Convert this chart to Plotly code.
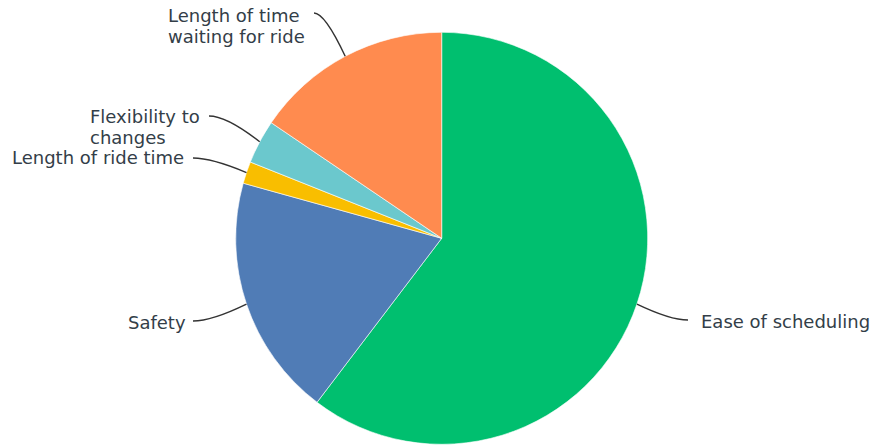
import math
import plotly.graph_objects as go

# Survey responses: most important factor when booking a ride
labels = ["Ease of scheduling", "Safety", "Length of ride time",
          "Flexibility to changes", "Length of time waiting for ride"]
label_lines = [["Ease of scheduling"], ["Safety"], ["Length of ride time"],
               ["Flexibility to", "changes"], ["Length of time", "waiting for ride"]]
responses = [35, 11, 1, 2, 9]
colors = ["#00BF6F", "#507CB6", "#F9BE00", "#6BC8CD", "#FF8B4F"]

W, H = 876, 446
CX, CY, R = 441.7, 238.3, 206.0   # pie centre and radius in pixels
FONT = dict(family="DejaVu Sans", size=18, color="#333e48")
LINE_GAP = 20.6

# label placement (pixels): text left edge, first-line middle, leader start
label_pos = {
    "Ease of scheduling": (699, 321, 688, 320),
    "Safety": (126, 322, 193, 321),
    "Length of ride time": (10, 157, 193, 158),
    "Flexibility to changes": (88, 117, 209, 116),
    "Length of time waiting for ride": (166, 16, 314, 13),
}


def px(x, y):
    return x / W, 1 - y / H


fig = go.Figure(go.Pie(
    labels=labels,
    values=responses,
    sort=False,
    direction="clockwise",
    rotation=0,
    textinfo="none",
    marker=dict(colors=colors, line=dict(color="white", width=0.6)),
    domain=dict(x=[(CX - R) / W, (CX + R) / W], y=[(H - CY - R) / H, (H - CY + R) / H]),
    showlegend=False,
))

total = sum(responses)
start = 0.0
shapes, annotations = [], []
for lab, lines, v in zip(labels, label_lines, responses):
    frac = v / total
    mid = (start + frac / 2) * 2 * math.pi
    start += frac
    tx = CX + R * math.sin(mid)
    ty = CY - R * math.cos(mid)
    lx, ly, sx, sy = label_pos[lab]
    cx = sx + 0.35 * (tx - sx)
    cy = sy
    path = "M {} {} Q {} {} {} {}".format(*px(sx, sy), *px(cx, cy), *px(tx, ty))
    shapes.append(dict(type="path", xref="paper", yref="paper", path=path,
                       line=dict(color="#333333", width=1.4)))
    for i, line in enumerate(lines):
        ax, ay = px(lx, ly + i * LINE_GAP)
        annotations.append(dict(x=ax, y=ay, xref="paper", yref="paper", text=line,
                                showarrow=False, xanchor="left", yanchor="middle",
                                align="left", font=FONT))

fig.update_layout(
    width=W, height=H,
    margin=dict(l=0, r=0, t=0, b=0),
    paper_bgcolor="white",
    plot_bgcolor="white",
    shapes=shapes,
    annotations=annotations,
)

fig.write_html("out.html")
